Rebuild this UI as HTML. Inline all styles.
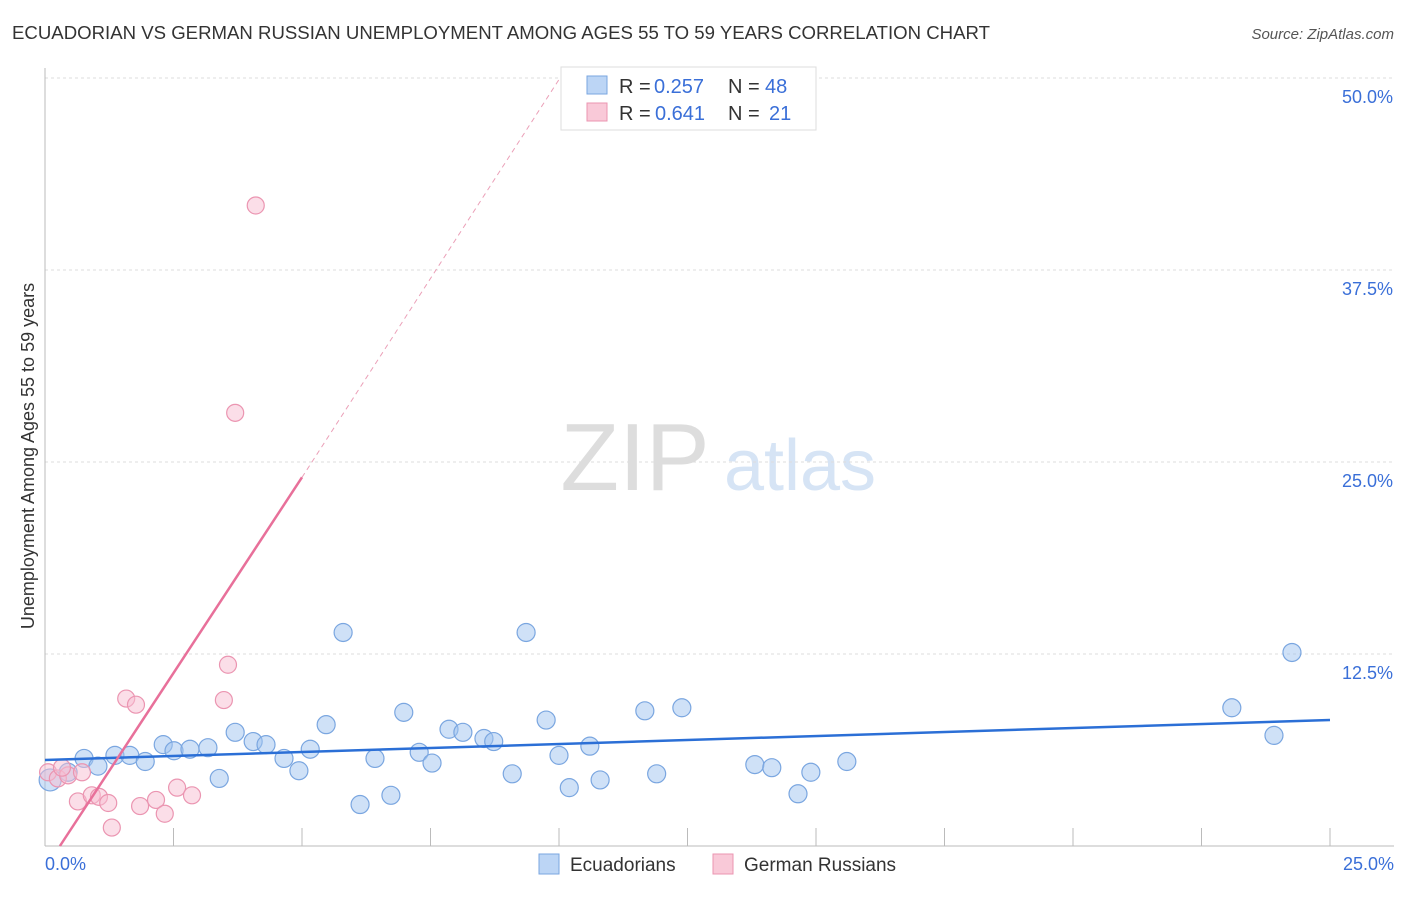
<!DOCTYPE html>
<html><head><meta charset="utf-8"><style>
body{margin:0;background:#fff;font-family:"Liberation Sans",sans-serif}
svg text{font-family:"Liberation Sans",sans-serif}
</style></head><body>
<svg id="c" width="1406" height="892" xmlns="http://www.w3.org/2000/svg">
<text x="12" y="39" font-size="18" fill="#333" textLength="978" lengthAdjust="spacingAndGlyphs">ECUADORIAN VS GERMAN RUSSIAN UNEMPLOYMENT AMONG AGES 55 TO 59 YEARS CORRELATION CHART</text>
<text x="1394" y="39" font-size="15" fill="#555" text-anchor="end" font-style="italic">Source: ZipAtlas.com</text>
<text transform="translate(34,456) rotate(-90)" font-size="18" fill="#333" text-anchor="middle">Unemployment Among Ages 55 to 59 years</text>
<g>
<text x="635" y="490" font-size="96" fill="#ddd" text-anchor="middle" font-family="Liberation Serif">ZIP</text>
<text x="800" y="490" font-size="72" fill="#d6e4f5" text-anchor="middle">atlas</text>
</g>
<g id="grid"></g><g id="marks"></g>
<g>
<rect x="561" y="67" width="255" height="63" fill="#fff" stroke="#ddd"/>
<rect x="587" y="76" width="20" height="18" fill="#bcd5f5" stroke="#7aa6e0"/>
<text x="619" y="93" font-size="20" fill="#333">R =</text><text x="654" y="93" font-size="20" fill="#3a6fd8">0.257</text>
<text x="728" y="93" font-size="20" fill="#333">N =</text><text x="765" y="93" font-size="20" fill="#3a6fd8">48</text>
<rect x="587" y="103" width="20" height="18" fill="#f9c9d8" stroke="#eb95b1"/>
<text x="619" y="120" font-size="20" fill="#333">R =</text><text x="655" y="120" font-size="20" fill="#3a6fd8">0.641</text>
<text x="728" y="120" font-size="20" fill="#333">N =</text><text x="769" y="120" font-size="20" fill="#3a6fd8">21</text>
</g>
<g>
<rect x="539" y="854" width="20" height="20" fill="#bcd5f5" stroke="#7aa6e0"/>
<text x="570" y="871" font-size="19" fill="#333">Ecuadorians</text>
<rect x="713" y="854" width="20" height="20" fill="#f9c9d8" stroke="#eb95b1"/>
<text x="744" y="871" font-size="19" fill="#333">German Russians</text>
</g>
</svg>
<script>
const yTicks=[12.5,25,37.5,50];
const yTickLabels=["12.5%","25.0%","37.5%","50.0%"];
const xTicks=[0,2.5,5,7.5,10,12.5,15,17.5,20,22.5,25];
const ecuX=[0.1,0.45,0.76,1.03,1.36,1.65,1.95,2.3,2.51,2.82,3.17,3.39,3.7,4.05,4.3,4.65,4.94,5.16,5.47,5.8,6.13,6.42,6.73,6.98,7.28,7.53,7.86,8.13,8.54,8.73,9.09,9.36,9.75,10.0,10.2,10.6,10.8,11.67,11.9,12.39,13.81,14.14,14.65,14.9,15.6,23.09,23.91,24.26];
const ecuY=[4.3,4.8,5.7,5.2,5.9,5.9,5.5,6.6,6.2,6.3,6.4,4.4,7.4,6.8,6.6,5.7,4.9,6.3,7.9,13.9,2.7,5.7,3.3,8.7,6.1,5.4,7.6,7.4,7.0,6.8,4.7,13.9,8.2,5.9,3.8,6.5,4.3,8.8,4.7,9.0,5.3,5.1,3.4,4.8,5.5,9.0,7.2,12.6];
const grX=[0.06,0.25,0.45,0.72,0.64,0.91,1.05,1.23,1.3,1.58,1.77,1.85,2.16,2.33,2.57,2.86,3.48,3.56,3.7,4.1,0.33];
const grY=[4.8,4.4,4.6,4.8,2.9,3.3,3.2,2.8,1.2,9.6,9.2,2.6,3.0,2.1,3.8,3.3,9.5,11.8,28.2,41.7,5.1];
const ecuTrend=[[0,5.6],[25,8.2]];
const grTrend=[[0.29,0],[5.0,24]];
const grTrendExt=[[5.0,24],[10.0,49.9]];
const X=v=>45+v*51.4, Y=v=>846-v*15.36;
const NS="http://www.w3.org/2000/svg";
const grid=document.getElementById('grid'),marks=document.getElementById('marks');
function mk(t,a,p){const e=document.createElementNS(NS,t);for(const k in a)e.setAttribute(k,a[k]);p.appendChild(e);return e;}
yTicks.forEach((t,i)=>{
 const l=mk('line',{x1:45,x2:1394,y1:Y(t),y2:Y(t),stroke:'#ddd','stroke-dasharray':'3,3'},grid);
 
 
 const tx=mk('text',{x:1393,y:Y(t)+25,'font-size':18,fill:'#3a6fd8','text-anchor':'end'},grid);
 tx.textContent=yTickLabels[i];
 
 
});
const ax=mk('line',{x1:45,x2:1394,y1:846,y2:846,stroke:'#bbb'},grid);


const ay=mk('line',{x1:45,x2:45,y1:68,y2:846,stroke:'#bbb'},grid);


xTicks.forEach(t=>{const l=mk('line',{x1:X(t),x2:X(t),y1:828,y2:846,stroke:'#bbb'},grid);
 
 });
[[0,'0.0%','start',45],[25,'25.0%','end',1394]].forEach(d=>{const t=mk('text',{x:d[3],y:870,'font-size':18,fill:'#3a6fd8','text-anchor':d[2]},grid);t.textContent=d[1];
 
 });
ecuX.forEach((x,i)=>{const c=mk('circle',{cx:X(x),cy:Y(ecuY[i]),r:i==0?11:9,fill:'rgba(160,195,240,0.5)',stroke:'#7aa6e0','stroke-width':1.2},marks);
 
 });
grX.forEach((x,i)=>{const c=mk('circle',{cx:X(x),cy:Y(grY[i]),r:8.5,fill:'rgba(248,190,210,0.5)',stroke:'#eb95b1','stroke-width':1.2},marks);
 
 });
const l1=mk('line',{x1:X(ecuTrend[0][0]),y1:Y(ecuTrend[0][1]),x2:X(ecuTrend[1][0]),y2:Y(ecuTrend[1][1]),stroke:'#2b6fd6','stroke-width':2.5},marks);


const l2=mk('line',{x1:X(grTrend[0][0]),y1:Y(grTrend[0][1]),x2:X(grTrend[1][0]),y2:Y(grTrend[1][1]),stroke:'#e8709a','stroke-width':2.5},marks);


const l3=mk('line',{x1:X(grTrendExt[0][0]),y1:Y(grTrendExt[0][1]),x2:X(grTrendExt[1][0]),y2:Y(grTrendExt[1][1]),stroke:'#eba0b8','stroke-width':1,'stroke-dasharray':'5,4'},marks);


</script>
</body></html>
